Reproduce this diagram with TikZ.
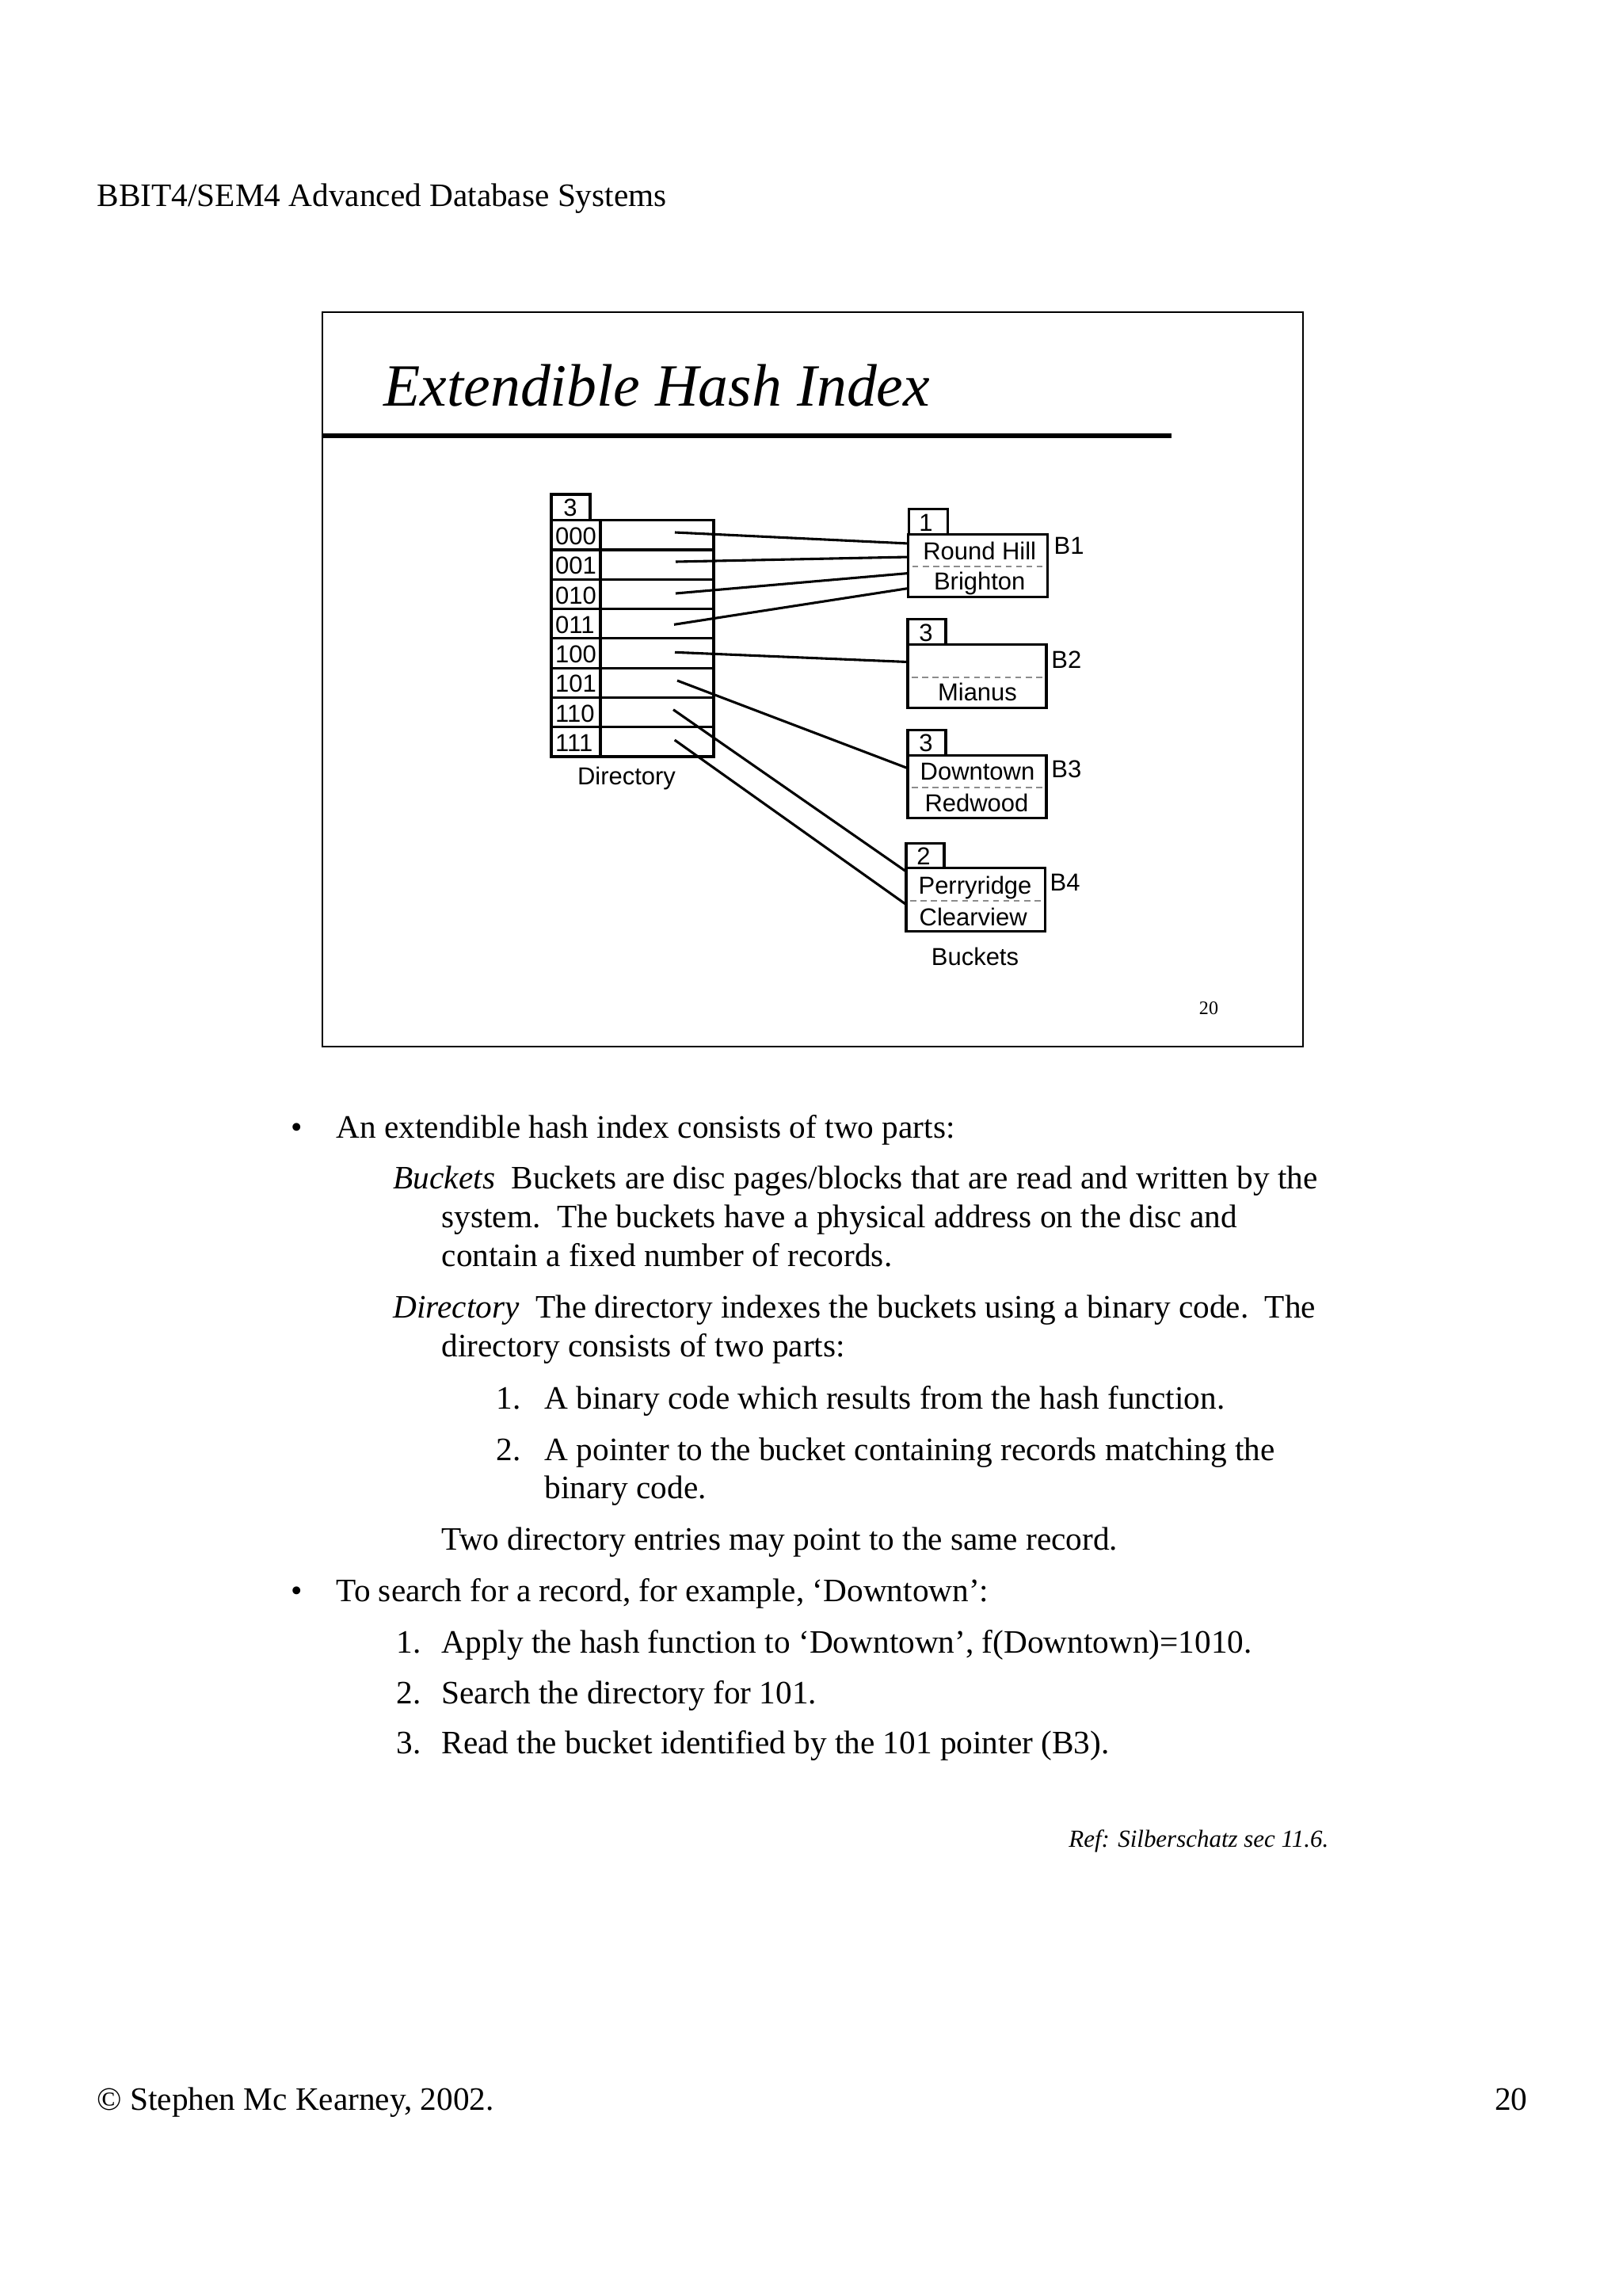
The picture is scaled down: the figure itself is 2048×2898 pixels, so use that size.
\documentclass[tikz,border=0pt]{standalone}
\usepackage{fontspec}
\setmainfont{Liberation Serif}
\newfontfamily\arialf{Liberation Sans}
\def\U{0.29067pt}
\tikzset{
  cellbox/.style={draw, line width=0.9pt, inner sep=0pt, outer sep=0pt, anchor=north west},
  sftext/.style={font=\arialf\fontsize{9}{10}\selectfont, inner sep=0pt, anchor=base},
  bodytext/.style={font=\fontsize{12}{14}\selectfont, inner sep=0pt, anchor=base west},
  sepline/.style={draw=black!45, line width=0.45pt, dash pattern=on 2.2pt off 1.6pt},
  ptr/.style={line width=0.9pt},
}
\begin{document}
\begin{tikzpicture}[x=0.29067pt, y=-0.29067pt]
\fill[white] (0,0) rectangle (2048,2898);
\useasboundingbox (0,0) rectangle (2048,2898);

% header
\node[bodytext] (hdr) at (122,260) {BBIT4/SEM4 Advanced Database Systems};

% slide frame
\draw[line width=0.6pt] (407,394) rectangle (1645,1321);
\node[font=\itshape\fontsize{22}{26}\selectfont, inner sep=0pt, anchor=base west] (title) at (484,512) {Extendible Hash Index};
\draw[line width=2pt] (408,550) -- (1479,550);
\node[font=\fontsize{7}{8}\selectfont, inner sep=0pt, anchor=base] (sno) at (1526,1280) {20};

% directory
\node[cellbox, minimum width=49*\U, minimum height=32.7*\U] (dd) at (696,624) {};
\node[sftext] (ddt) at (720,651.5) {3};
\foreach \i/\code in {0/000,1/001,2/010,3/011,4/100,5/101,6/110,7/111} {
  \pgfmathsetmacro\rowtop{656.7+37.29*\i}
  \pgfmathsetmacro\rowbl{656.7+37.29*\i+37.29-6.5}
  \node[cellbox, minimum width=62*\U, minimum height=37.29*\U] (c\i) at (696,\rowtop) {};
  \node[cellbox, minimum width=143*\U, minimum height=37.29*\U] (p\i) at (758,\rowtop) {};
  \node[sftext, anchor=base west] (t\i) at (700.5,\rowbl) {\code};
}
\node[sftext] (dirlab) at (791,990) {Directory};

% buckets
\node[cellbox, minimum width=49*\U, minimum height=32*\U] (d1) at (1147.3,642.3) {};
\node[cellbox, minimum width=176*\U, minimum height=78.9*\U] (b1) at (1146.7,674.3) {};
\node[sftext] (d1t) at (1169,670) {1};
\draw[sepline] ([xshift=1.5pt,yshift=-0.4pt]b1.west) -- ([xshift=-1.5pt,yshift=-0.4pt]b1.east);
\node[sftext] (r1a) at (1236.7,706.8) {Round Hill};
\node[sftext] (r1b) at (1236.7,744) {Brighton};
\node[sftext, anchor=base west] (l1) at (1330,699.3) {B1};

\node[cellbox, minimum width=48*\U, minimum height=32.2*\U] (d2) at (1146,781.4) {};
\node[cellbox, minimum width=175*\U, minimum height=79.6*\U] (b2) at (1146,813.6) {};
\node[sftext] (d2t) at (1169,809) {3};
\draw[sepline] ([xshift=1.5pt,yshift=-0.4pt]b2.west) -- ([xshift=-1.5pt,yshift=-0.4pt]b2.east);
\node[sftext] (r2b) at (1234,884.3) {Mianus};
\node[sftext, anchor=base west] (l2) at (1326.7,843.2) {B2};

\node[cellbox, minimum width=48*\U, minimum height=31.4*\U] (d3) at (1146,921.8) {};
\node[cellbox, minimum width=175*\U, minimum height=79.3*\U] (b3) at (1146,953.2) {};
\node[sftext] (d3t) at (1169,948.5) {3};
\draw[sepline] ([xshift=1.5pt,yshift=-0.4pt]b3.west) -- ([xshift=-1.5pt,yshift=-0.4pt]b3.east);
\node[sftext] (r3a) at (1234,984.3) {Downtown};
\node[sftext] (r3b) at (1233,1024.6) {Redwood};
\node[sftext, anchor=base west] (l3) at (1326.7,981.4) {B3};

\node[cellbox, minimum width=48*\U, minimum height=31.1*\U] (d4) at (1144,1064.6) {};
\node[cellbox, minimum width=175.3*\U, minimum height=79.7*\U] (b4) at (1144,1095.7) {};
\node[sftext] (d4t) at (1166,1091.4) {2};
\draw[sepline] ([xshift=1.5pt,yshift=-0.4pt]b4.west) -- ([xshift=-1.5pt,yshift=-0.4pt]b4.east);
\node[sftext] (r4a) at (1231,1128.2) {Perryridge};
\node[sftext] (r4b) at (1228.7,1168.2) {Clearview};
\node[sftext, anchor=base west] (l4) at (1325,1124.6) {B4};

\node[sftext] (bklab) at (1231,1218) {Buckets};

% pointers
\coordinate (s0) at (852,672);   \coordinate (e0) at (1147,686);
\coordinate (s1) at (853,709);   \coordinate (e1) at (1147,703);
\coordinate (s2) at (853,749);   \coordinate (e2) at (1147,723.5);
\coordinate (s3) at (851,788.3); \coordinate (e3) at (1147,742.5);
\coordinate (s4) at (852,823.3); \coordinate (e4) at (1146,835.5);
\coordinate (s5) at (855,859);   \coordinate (e5) at (1145,969.3);
\coordinate (s6) at (850,895.7); \coordinate (e6) at (1144,1100);
\coordinate (s7) at (851.7,934); \coordinate (e7) at (1144,1141.7);
\foreach \k in {0,...,7} { \draw[ptr] (s\k) -- (e\k); }

% body text
\node[bodytext, anchor=base] (bul1) at (375,1436.7) {•};
\node[bodytext] (x1) at (424,1436.7) {An extendible hash index consists of two parts:};
\node[bodytext] (x2) at (496,1500) {\textit{Buckets}\ \ Buckets are disc pages/blocks that are read and written by the};
\node[bodytext] (x3) at (557,1549.3) {system.\ \ The buckets have a physical address on the disc and};
\node[bodytext] (x4) at (557,1598.3) {contain a fixed number of records.};
\node[bodytext] (x5) at (496,1663.3) {\textit{Directory}\ \ The directory indexes the buckets using a binary code.\ \ The};
\node[bodytext] (x6) at (557,1712.7) {directory consists of two parts:};
\node[bodytext] (n7) at (626,1778.3) {1.};
\node[bodytext] (x7) at (687,1778.3) {A binary code which results from the hash function.};
\node[bodytext] (n8) at (626,1843.3) {2.};
\node[bodytext] (x8) at (687,1843.3) {A pointer to the bucket containing records matching the};
\node[bodytext] (x9) at (687,1891.7) {binary code.};
\node[bodytext] (x10) at (557,1956.7) {Two directory entries may point to the same record.};
\node[bodytext, anchor=base] (bul2) at (375,2021.7) {•};
\node[bodytext] (x11) at (424,2021.7) {To search for a record, for example, ‘Downtown’:};
\node[bodytext] (n12) at (500,2086.7) {1.};
\node[bodytext] (x12) at (557,2086.7) {Apply the hash function to ‘Downtown’, f(Downtown)=1010.};
\node[bodytext] (n13) at (500,2150) {2.};
\node[bodytext] (x13) at (557,2150) {Search the directory for 101.};
\node[bodytext] (n14) at (500,2213.3) {3.};
\node[bodytext] (x14) at (557,2213.3) {Read the bucket identified by the 101 pointer (B3).};
\node[font=\itshape\fontsize{9}{10}\selectfont, inner sep=0pt, anchor=base east] (ref) at (1678,2331.7) {Ref: Silberschatz sec 11.6.};

% footer
\node[bodytext] (foot) at (122,2663.3) {© Stephen Mc Kearney, 2002.};
\node[bodytext, anchor=base east] (pg) at (1929,2663.3) {20};
\end{tikzpicture}
\end{document}
